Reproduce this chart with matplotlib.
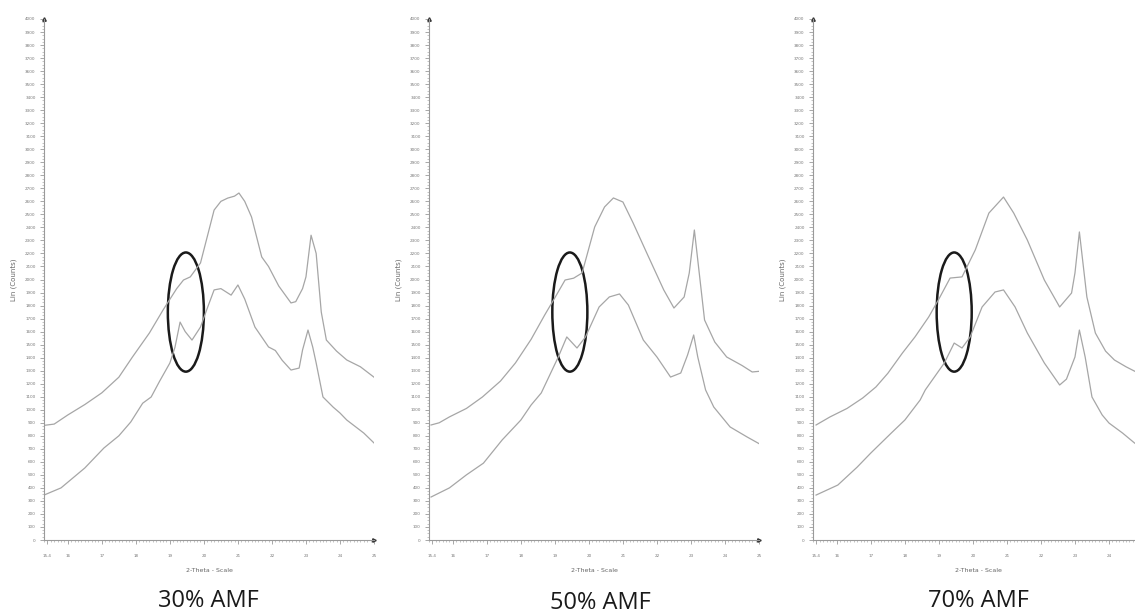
import matplotlib
matplotlib.use("Agg")
import matplotlib.pyplot as plt
from matplotlib.patches import Ellipse
from matplotlib.ticker import MultipleLocator, FixedLocator

# 2-theta (deg) and counts for each sample; upper and lower scans
amf30_upper_x = [15.3, 15.6, 16.0, 16.5, 17.0, 17.5, 17.9, 18.4, 18.8, 19.2, 19.4, 19.6, 19.9, 20.1, 20.3, 20.5, 20.7, 20.9, 21.03, 21.2, 21.4, 21.7, 21.9, 22.2, 22.56, 22.7, 22.9, 23.0, 23.15, 23.3, 23.45, 23.6, 23.9, 24.2, 24.6, 25.0]
amf30_upper_y = [880, 890, 960, 1040, 1130, 1250, 1405, 1590, 1766, 1930, 1996, 2020, 2127, 2330, 2533, 2600, 2625, 2640, 2664, 2600, 2480, 2173, 2100, 1950, 1820, 1830, 1930, 2020, 2340, 2200, 1750, 1535, 1450, 1382, 1330, 1250]
amf30_lower_x = [15.3, 15.8, 16.5, 17.06, 17.5, 17.85, 18.2, 18.45, 18.7, 19.0, 19.15, 19.3, 19.45, 19.65, 19.9, 20.1, 20.3, 20.5, 20.8, 21.0, 21.2, 21.5, 21.9, 22.1, 22.3, 22.56, 22.8, 22.9, 23.06, 23.2, 23.3, 23.5, 23.8, 24.0, 24.2, 24.7, 25.0]
amf30_lower_y = [345, 400, 553, 706, 800, 906, 1050, 1098, 1220, 1359, 1480, 1673, 1600, 1535, 1635, 1780, 1920, 1930, 1880, 1958, 1850, 1635, 1482, 1455, 1380, 1305, 1320, 1459, 1612, 1480, 1359, 1098, 1020, 975, 921, 821, 745]

amf50_upper_x = [15.36, 15.6, 15.9, 16.4, 16.87, 17.4, 17.84, 18.3, 18.7, 19.0, 19.3, 19.55, 19.8, 20.17, 20.46, 20.72, 21.0, 21.3, 21.7, 22.2, 22.5, 22.8, 22.95, 23.1, 23.2, 23.4, 23.7, 24.05, 24.5, 24.8, 25.0]
amf50_upper_y = [883, 900, 945, 1010, 1098, 1220, 1359, 1540, 1727, 1860, 1996, 2010, 2050, 2403, 2557, 2626, 2595, 2434, 2204, 1920, 1781, 1866, 2050, 2380, 2150, 1689, 1520, 1405, 1340, 1290, 1295]
amf50_lower_x = [15.36, 15.9, 16.4, 16.9, 17.45, 18.0, 18.3, 18.6, 19.1, 19.35, 19.65, 19.9, 20.3, 20.6, 20.9, 21.16, 21.6, 22.0, 22.4, 22.7, 22.9, 23.08, 23.2, 23.43, 23.67, 24.15, 24.65, 25.0]
amf50_lower_y = [330, 400, 500, 590, 768, 921, 1036, 1129, 1405, 1559, 1474, 1559, 1789, 1866, 1889, 1804, 1535, 1405, 1251, 1282, 1420, 1574, 1405, 1152, 1021, 868, 791, 740]

amf70_upper_x = [15.39, 15.8, 16.3, 16.76, 17.15, 17.5, 17.93, 18.3, 18.7, 19.0, 19.33, 19.68, 20.07, 20.47, 20.9, 21.2, 21.6, 22.1, 22.55, 22.9, 23.0, 23.13, 23.35, 23.6, 23.9, 24.16, 24.5, 24.8, 25.0]
amf70_upper_y = [883, 945, 1010, 1090, 1175, 1280, 1436, 1560, 1712, 1850, 2011, 2020, 2227, 2510, 2633, 2510, 2303, 1996, 1789, 1896, 2050, 2365, 1866, 1589, 1450, 1382, 1330, 1290, 1250]
amf70_lower_x = [15.39, 16.03, 16.6, 17.0, 17.6, 18.0, 18.45, 18.6, 19.16, 19.45, 19.68, 19.92, 20.27, 20.65, 20.9, 21.24, 21.6, 22.1, 22.55, 22.75, 23.0, 23.13, 23.3, 23.5, 23.8, 24.0, 24.4, 24.75, 25.0]
amf70_lower_y = [345, 422, 560, 668, 821, 921, 1075, 1152, 1359, 1512, 1474, 1559, 1789, 1904, 1920, 1789, 1589, 1359, 1190, 1235, 1405, 1612, 1405, 1098, 960, 898, 821, 745, 700]

panel_titles = ["30% AMF", "50% AMF", "70% AMF"]
x_ticks = [15.4, 16, 17, 18, 19, 20, 21, 22, 23, 24, 25]
x_tick_labels = ["15.4", "16", "17", "18", "19", "20", "21", "22", "23", "24", "25"]

# highlighted region: (2-theta centre, counts centre, width deg, height counts)
circle_30 = (19.47, 1750, 1.06, 915)
circle_50 = (19.44, 1750, 1.03, 915)
circle_70 = (19.45, 1750, 1.03, 915)

samples = [
    (amf30_upper_x, amf30_upper_y, amf30_lower_x, amf30_lower_y, circle_30),
    (amf50_upper_x, amf50_upper_y, amf50_lower_x, amf50_lower_y, circle_50),
    (amf70_upper_x, amf70_upper_y, amf70_lower_x, amf70_lower_y, circle_70),
]

W, H = 1135, 615
fig = plt.figure(figsize=(W / 100, H / 100), dpi=100)
fig.patch.set_facecolor("white")

lefts = [44, 429, 813]
title_pos = [(208, 601), (600, 603), (978, 601)]
line_col = "#a6a6a6"
axis_col = "#9a9a9a"

for i, (ux, uy, lx, ly, circ) in enumerate(samples):
    ax = fig.add_axes([lefts[i] / W, 75 / H, 330 / W, 521 / H])
    ax.plot(ux, uy, color=line_col, lw=0.9)
    ax.plot(lx, ly, color=line_col, lw=0.9)
    ax.add_patch(Ellipse((circ[0], circ[1]), circ[2], circ[3], fill=False,
                         edgecolor="#1a1a1a", lw=1.8))

    ax.set_xlim(15.3, 25.0)
    ax.set_ylim(0, 4000)
    for s in ["top", "right"]:
        ax.spines[s].set_visible(False)
    for s in ["left", "bottom"]:
        ax.spines[s].set_color(axis_col)
        ax.spines[s].set_linewidth(0.8)

    # the last panel runs past the right edge, so its 25 label is not shown
    n_ticks = len(x_ticks) if i < 2 else len(x_ticks) - 1
    ax.yaxis.set_major_locator(MultipleLocator(100))
    ax.yaxis.set_minor_locator(MultipleLocator(25))
    ax.xaxis.set_major_locator(FixedLocator(x_ticks[:n_ticks]))
    ax.set_xticklabels(x_tick_labels[:n_ticks])
    ax.xaxis.set_minor_locator(MultipleLocator(0.1))
    ax.tick_params(which="major", length=3, width=0.6, color=axis_col,
                   labelsize=3, labelcolor="#777777", pad=3)
    ax.tick_params(which="minor", length=1.5, width=0.4, color=axis_col)
    ax.tick_params(axis="x", which="major", pad=7)

    # small arrow heads at the axis ends
    ax.plot([0], [1], marker="^", ms=2.5, color="#333333", transform=ax.transAxes, clip_on=False)
    ax.plot([1], [0], marker=">", ms=2.5, color="#333333", transform=ax.transAxes, clip_on=False)

    ax.set_ylabel("Lin (Counts)", fontsize=5, color="#666666", labelpad=6)
    ax.set_xlabel("2-Theta - Scale", fontsize=4.5, color="#666666", labelpad=7)

    fig.text(title_pos[i][0] / W, 1 - title_pos[i][1] / H, panel_titles[i],
             ha="center", va="center", fontsize=17, family="Open Sans", color="#1a1a1a")

fig.savefig("out.png", dpi=100, facecolor="white")
